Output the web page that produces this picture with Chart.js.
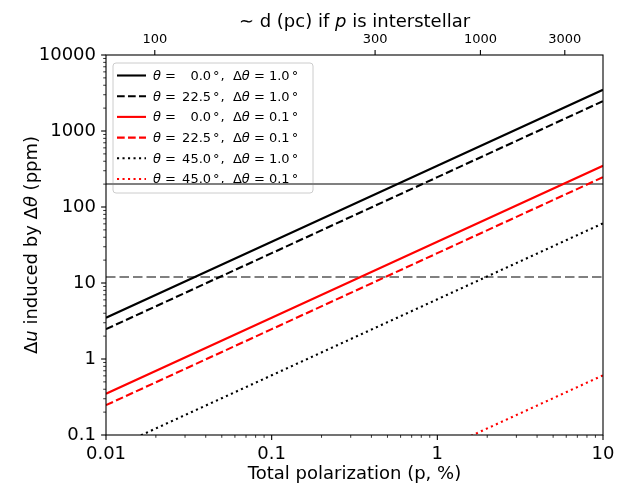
<!DOCTYPE html>
<html>
<head>
<meta charset="utf-8">
<script src="https://cdn.jsdelivr.net/npm/chart.js@4/dist/chart.umd.min.js"></script>
<style>
  html, body { margin: 0; padding: 0; background: #fff; }
</style>
</head>
<body>
<canvas id="chart" width="627" height="485"></canvas>
<script>
// values (ppm at each decade of p)
const P_VALUES = [0.01, 0.1, 1, 10];
const DU_T00_D10 = [3.49, 34.9, 349, 3490];
const DU_T225_D10 = [2.47, 24.7, 247, 2470];
const DU_T00_D01 = [0.349, 3.49, 34.9, 349];
const DU_T225_D01 = [0.247, 2.47, 24.7, 247];
const DU_T45_D10 = [0.061, 0.61, 6.1, 61];
const DU_T45_D01 = [0.00061, 0.0061, 0.061, 0.61];

const REF_LEVELS = [200, 12];

const X_TICKS = [0.01, 0.1, 1, 10];
const Y_TICKS = [0.1, 1, 10, 100, 1000, 10000];
const DIST_TICK_LABELS = ["100", "300", "1000", "3000"];
const DIST_TICK_P = [0.0197, 0.421, 1.82, 5.88];

const LEGEND_THETA = ["0.0", "22.5", "0.0", "22.5", "45.0", "45.0"];
const LEGEND_DTHETA = ["1.0", "1.0", "0.1", "0.1", "1.0", "0.1"];

const FONT = '"DejaVu Sans", sans-serif';
const DASHED = [7.7, 3.3];
const DOTTED = [2.1, 3.4];

function points(ys) {
  return ys.map((y, i) => ({ x: P_VALUES[i], y }));
}

function curve(ys, color, dash) {
  return {
    data: points(ys),
    borderColor: color,
    borderWidth: 2.1,
    borderDash: dash,
    borderCapStyle: "butt",
    pointRadius: 0,
    fill: false,
    tension: 0,
    clip: 0
  };
}

function level(y, dash) {
  return {
    data: [{ x: P_VALUES[0], y }, { x: P_VALUES[P_VALUES.length - 1], y }],
    borderColor: "#808080",
    borderWidth: 2,
    borderDash: dash,
    borderCapStyle: "butt",
    pointRadius: 0,
    fill: false,
    clip: 0,
    isRef: true
  };
}

// decade majors plus 2..9 minors
function logTicks(majors) {
  const ticks = [];
  majors.forEach((m, i) => {
    ticks.push({ value: m, isMajor: true });
    if (i < majors.length - 1) {
      for (let k = 2; k <= 9; k++) ticks.push({ value: m * k, isMajor: false });
    }
  });
  return ticks;
}

// parts: {t, it (italic), gap (extra px before)}
function drawParts(ctx, x, y, parts, size) {
  for (const p of parts) {
    x += p.gap || 0;
    ctx.font = (p.it ? "italic " : "") + size + "px " + FONT;
    ctx.fillText(p.t, x, y);
    x += ctx.measureText(p.t).width;
  }
  return x;
}

function partsWidth(ctx, parts, size) {
  let w = 0;
  for (const p of parts) {
    ctx.font = (p.it ? "italic " : "") + size + "px " + FONT;
    w += ctx.measureText(p.t).width + (p.gap || 0);
  }
  return w;
}

const frameAndTicks = {
  id: "frameAndTicks",
  afterDatasetsDraw(chart) {
    const ctx = chart.ctx;
    const a = chart.chartArea;
    ctx.save();
    ctx.strokeStyle = "#000";
    ctx.lineWidth = 1.1;
    ctx.strokeRect(a.left, a.top, a.right - a.left, a.bottom - a.top);

    const drawTick = (x1, y1, x2, y2, major) => {
      ctx.lineWidth = major ? 1.1 : 0.8;
      ctx.beginPath();
      ctx.moveTo(x1, y1);
      ctx.lineTo(x2, y2);
      ctx.stroke();
    };
    const xs = chart.scales.x;
    xs.ticks.forEach(t => {
      const px = xs.getPixelForValue(t.value);
      const len = t.isMajor ? 4.9 : 2.8;
      drawTick(px, a.bottom, px, a.bottom + len, t.isMajor);
    });
    const ys = chart.scales.y;
    ys.ticks.forEach(t => {
      const py = ys.getPixelForValue(t.value);
      const len = t.isMajor ? 4.9 : 2.8;
      drawTick(a.left - len, py, a.left, py, t.isMajor);
    });
    const ts = chart.scales.x2;
    ts.ticks.forEach(t => {
      const px = ts.getPixelForValue(t.value);
      drawTick(px, a.top - 4.9, px, a.top, true);
    });
    ctx.restore();
  },
  afterDraw(chart) {
    const ctx = chart.ctx;
    const a = chart.chartArea;
    const cx = (a.left + a.right) / 2;
    ctx.save();
    ctx.fillStyle = "#000";
    ctx.textBaseline = "alphabetic";
    ctx.textAlign = "left";

    const bottomTitle = [{ t: "Total polarization (p, %)" }];
    drawParts(ctx, cx - partsWidth(ctx, bottomTitle, 18) / 2, 479, bottomTitle, 18);

    const topTitle = [{ t: "\u223C d (pc) if " }, { t: "p", it: true }, { t: " is interstellar" }];
    drawParts(ctx, cx - partsWidth(ctx, topTitle, 18) / 2, 27, topTitle, 18);

    const yTitle = [
      { t: "\u0394" }, { t: "u", it: true }, { t: " induced by \u0394" },
      { t: "\u03B8", it: true }, { t: " (ppm)" }
    ];
    ctx.translate(37, (a.top + a.bottom) / 2);
    ctx.rotate(-Math.PI / 2);
    drawParts(ctx, -partsWidth(ctx, yTitle, 18) / 2, 0, yTitle, 18);
    ctx.restore();
  }
};

const legendBox = {
  id: "legendBox",
  beforeDatasetsDraw(chart) {
    const ctx = chart.ctx;
    const bx = 113, by = 63, bw = 200, bh = 130, r = 3;
    ctx.save();
    ctx.beginPath();
    ctx.moveTo(bx + r, by);
    ctx.arcTo(bx + bw, by, bx + bw, by + bh, r);
    ctx.arcTo(bx + bw, by + bh, bx, by + bh, r);
    ctx.arcTo(bx, by + bh, bx, by, r);
    ctx.arcTo(bx, by, bx + bw, by, r);
    ctx.closePath();
    ctx.fillStyle = "rgba(255,255,255,0.8)";
    ctx.fill();
    ctx.strokeStyle = "#cccccc";
    ctx.lineWidth = 1;
    ctx.stroke();

    const size = 13;
    ctx.font = size + "px " + FONT;
    const wideVal = ctx.measureText("22.5").width;
    ctx.textBaseline = "middle";
    ctx.fillStyle = "#000";
    chart.data.datasets.filter(d => !d.isRef).forEach((ds, i) => {
      const yy = 75.5 + i * 20.7;
      ctx.strokeStyle = ds.borderColor;
      ctx.lineWidth = ds.borderWidth;
      ctx.setLineDash(ds.borderDash || []);
      ctx.beginPath();
      ctx.moveTo(117, yy);
      ctx.lineTo(146, yy);
      ctx.stroke();
      ctx.setLineDash([]);

      let x = drawParts(ctx, 153, yy + 1, [{ t: "\u03B8", it: true }, { t: " = " }], size);
      ctx.font = size + "px " + FONT;
      const v = LEGEND_THETA[i];
      x += 2 + wideVal - ctx.measureText(v).width;
      drawParts(ctx, x, yy + 1, [
        { t: v }, { t: "\u00B0", gap: 2 }, { t: ",  \u0394", gap: 1 }, { t: "\u03B8", it: true },
        { t: " = " + LEGEND_DTHETA[i] }, { t: "\u00B0", gap: 2 }
      ], size);
    });
    ctx.restore();
  }
};

const tickFont = { family: FONT, size: 18 };

new Chart(document.getElementById("chart"), {
  type: "line",
  data: {
    datasets: [
      curve(DU_T00_D10, "#000000", []),
      curve(DU_T225_D10, "#000000", DASHED),
      curve(DU_T00_D01, "#ff0000", []),
      curve(DU_T225_D01, "#ff0000", DASHED),
      curve(DU_T45_D10, "#000000", DOTTED),
      curve(DU_T45_D01, "#ff0000", DOTTED),
      level(REF_LEVELS[0], []),
      level(REF_LEVELS[1], [9.5, 4])
    ]
  },
  options: {
    responsive: false,
    devicePixelRatio: 1,
    animation: false,
    layout: { padding: { left: 0, right: 24, top: 0, bottom: 0 } },
    plugins: { legend: { display: false }, tooltip: { enabled: false } },
    scales: {
      x: {
        type: "logarithmic",
        position: "bottom",
        min: 0.01,
        max: 10,
        grid: { display: false, drawTicks: false },
        border: { display: false },
        afterBuildTicks: s => { s.ticks = logTicks(X_TICKS); },
        afterFit: s => { s.height = 50; },
        ticks: {
          autoSkip: false,
          maxRotation: 0,
          padding: 9,
          color: "#000",
          font: tickFont,
          callback: (v, i, ticks) => ticks[i].isMajor ? String(v) : ""
        }
      },
      x2: {
        type: "logarithmic",
        position: "top",
        min: 0.01,
        max: 10,
        grid: { display: false, drawTicks: false },
        border: { display: false },
        afterBuildTicks: s => {
          s.ticks = DIST_TICK_P.map(v => ({ value: v, isMajor: true }));
        },
        afterFit: s => { s.height = 55; },
        ticks: {
          autoSkip: false,
          maxRotation: 0,
          padding: 8,
          color: "#000",
          font: { family: FONT, size: 13 },
          callback: (v, i) => DIST_TICK_LABELS[i]
        }
      },
      y: {
        type: "logarithmic",
        position: "left",
        min: 0.1,
        max: 10000,
        grid: { display: false, drawTicks: false },
        border: { display: false },
        afterBuildTicks: s => { s.ticks = logTicks(Y_TICKS); },
        afterFit: s => { s.width = 106; },
        ticks: {
          autoSkip: false,
          padding: 10,
          color: "#000",
          font: tickFont,
          callback: (v, i, ticks) => ticks[i].isMajor ? String(v) : ""
        }
      }
    }
  },
  plugins: [legendBox, frameAndTicks]
});
</script>
</body>
</html>
